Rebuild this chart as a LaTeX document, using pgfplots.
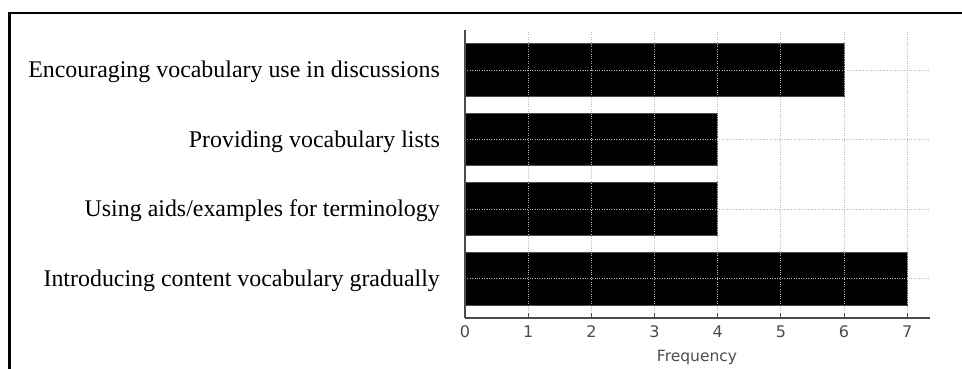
\documentclass[border=0pt]{standalone}
\usepackage{pgfplots}
\pgfplotsset{compat=1.18}
\usepackage{fontspec}
\setmainfont{Liberation Serif}
\newfontfamily\dejavu{DejaVu Sans}
\begin{document}
\begin{tikzpicture}[x=1pt,y=1pt]
\path[use as bounding box] (0,0) rectangle (962,369);
\draw[line width=2.5pt] (9.5,0) -- (9.5,356) -- (962,356);
\begin{axis}[
  at={(465pt,51pt)}, anchor=south west,
  scale only axis, width=465pt, height=288pt,
  xmin=0, xmax=7.36, ymin=-0.568, ymax=3.575,
  axis x line*=bottom, axis y line*=left,
  axis line style={draw=black!70, line width=1.2pt},
  xtick={0,1,2,3,4,5,6,7},
  ytick={0,1,2,3},
  yticklabels={Introducing content vocabulary gradually,Using aids/examples for terminology,Providing vocabulary lists,Encouraging vocabulary use in discussions},
  /pgf/number format/assume math mode=true,
  xticklabel style={font=\dejavu\fontsize{16}{16}\selectfont, text=black!70, anchor=center, yshift=-14pt},
  yticklabel style={font=\fontsize{23.9}{24}\selectfont, text=black, anchor=base east, inner sep=0pt, xshift=-25pt, yshift=-8pt},
  xtick style={draw=black!70, line width=1pt},
  ytick style={draw=none},
  tick align=inside,
  major tick length=5pt,
  xmajorgrids, ymajorgrids,
  grid style={dotted, draw=gray!55, line width=0.9pt},
  axis on top,
  xlabel={Frequency},
  xlabel style={font=\dejavu\fontsize{15.5}{16}\selectfont, text=black!70, at={(axis description cs:0.499,0)}, anchor=center, yshift=-39pt},
]
\addplot[xbar, bar width=0.76, fill=black, draw=black!70, line width=0.8pt] coordinates {(7,0) (4,1) (4,2) (6,3)};
\end{axis}
\end{tikzpicture}
\end{document}
